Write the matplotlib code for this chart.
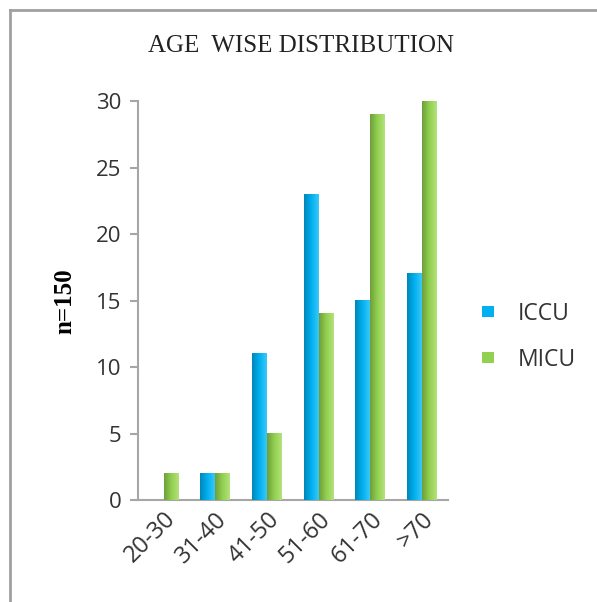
import numpy as np
import matplotlib.pyplot as plt
from matplotlib.lines import Line2D
from matplotlib.colors import LinearSegmentedColormap
from matplotlib.transforms import ScaledTranslation

# age groups and patient counts per unit
age_groups = ['20-30', '31-40', '41-50', '51-60', '61-70', '>70']
iccu = [0, 2, 11, 23, 15, 17]
micu = [2, 2, 5, 14, 29, 30]

blue = '#00B0F0'
green = '#92D050'

fig = plt.figure(figsize=(5.97, 6.02), dpi=100)
ax = fig.add_axes([0.231, 0.169, 0.519, 0.663])

x = np.arange(len(age_groups))
w = 0.29
b1 = ax.bar(x - w / 2, iccu, w, color=blue, label='ICCU')
b2 = ax.bar(x + w / 2, micu, w, color=green, label='MICU')

# excel style shading: darker at the left edge of each bar
shades = [['#0086B8', '#00B0F0', '#3CC8F8'],
          ['#6E9E3A', '#92D050', '#B4E27C']]
for bars, cols in zip((b1, b2), shades):
    cmap = LinearSegmentedColormap.from_list('s', cols)
    for p in bars:
        h = p.get_height()
        if h <= 0:
            continue
        x0 = p.get_x()
        ax.imshow(np.linspace(0, 1, 64).reshape(1, -1), cmap=cmap, aspect='auto',
                  extent=(x0, x0 + p.get_width(), 0, h), zorder=3, interpolation='bilinear')

ax.set_xlim(-0.5, len(age_groups) - 0.5)
ax.set_ylim(0, 30)
ax.set_yticks(range(0, 31, 5))
ax.set_xticks(x)
ax.set_xticklabels(age_groups, rotation=45, ha='right', rotation_mode='anchor',
                   fontsize=17, family='Open Sans', color='#333333')
shift = ScaledTranslation(-6 / 100, -2 / 100, fig.dpi_scale_trans)
for t in ax.get_xticklabels():
    t.set_transform(t.get_transform() + shift)
for t in ax.get_yticklabels():
    t.set_fontsize(16)
    t.set_family('Open Sans')
    t.set_color('#333333')

for s in ('top', 'right'):
    ax.spines[s].set_visible(False)
for s in ('left', 'bottom'):
    ax.spines[s].set_color('#A6A6A6')
    ax.spines[s].set_linewidth(1.5)
ax.tick_params(axis='y', length=6, width=1.5, color='#A6A6A6', pad=6)
ax.tick_params(axis='x', length=0, pad=5)

ax.set_ylabel('n=150', family='Liberation Serif', fontweight='bold', fontsize=18)
ax.yaxis.set_label_coords(-0.2, 0.5)
fig.text(0.505, 0.923, 'AGE  WISE DISTRIBUTION', family='Liberation Serif',
         fontsize=18, ha='center', va='center', color='#222222')

leg = ax.legend(loc='center left', bbox_to_anchor=(1.045, 0.41), frameon=False,
                prop={'family': 'Open Sans', 'size': 16.5}, handlelength=0.5,
                handleheight=0.35, labelspacing=0.95, handletextpad=1.05)
for t in leg.get_texts():
    t.set_color('#333333')

# frame lines along the top and left edge
fig.add_artist(Line2D([0.016, 1.0], [0.983, 0.983], transform=fig.transFigure,
                      color='#A0A0A0', lw=2))
fig.add_artist(Line2D([0.016, 0.016], [0.0, 0.983], transform=fig.transFigure,
                      color='#A0A0A0', lw=2))

fig.savefig('out.png', dpi=100)
